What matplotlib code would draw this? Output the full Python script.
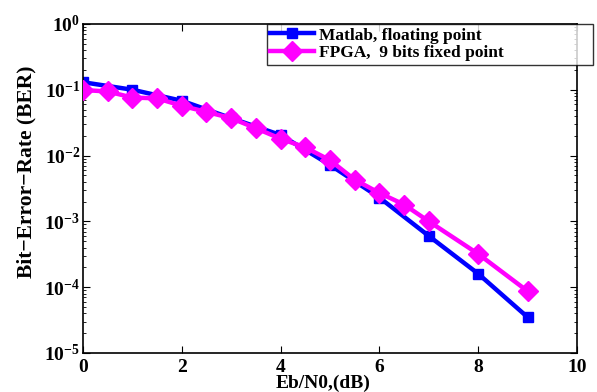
import matplotlib
matplotlib.use("Agg")
import matplotlib.pyplot as plt
from matplotlib.ticker import FixedLocator, LogLocator, NullFormatter

plt.rcParams["font.family"] = "Liberation Serif"
plt.rcParams["font.weight"] = "bold"
plt.rcParams["mathtext.fontset"] = "custom"
plt.rcParams["mathtext.rm"] = "Liberation Serif:bold"
plt.rcParams["mathtext.bf"] = "Liberation Serif:bold"

# Matlab, floating point
matlab_x = [0, 1, 2, 3, 4, 5, 6, 7, 8, 9]
matlab_ber = [0.13, 0.10, 0.068, 0.037, 0.0205, 0.0072, 0.0023, 0.0006, 0.00016, 3.5e-5]

# FPGA, 9 bits fixed point
fpga_x = [0, 0.5, 1, 1.5, 2, 2.5, 3, 3.5, 4, 4.5, 5, 5.5, 6, 6.5, 7, 8, 9]
fpga_ber = [0.099, 0.094, 0.076, 0.074, 0.057, 0.046, 0.037, 0.026, 0.018,
            0.0133, 0.0085, 0.0043, 0.0027, 0.0018, 0.001, 0.00032, 8.7e-5]

x_ticks = [0, 2, 4, 6, 8, 10]
y_exps = [0, -1, -2, -3, -4, -5]

fig = plt.figure(figsize=(5.97, 3.92), dpi=100)
ax = fig.add_axes([0.139, 0.0995, 0.8275, 0.8395])

ax.semilogy(matlab_x, matlab_ber, color="#0000ff", linewidth=3.2, marker="s",
            markersize=7.5, label="Matlab, floating point", zorder=2)
ax.semilogy(fpga_x, fpga_ber, color="#ff00ff", linewidth=3.2, marker="D",
            markersize=10, label="FPGA,  9 bits fixed point", zorder=3)

ax.set_xlim(0, 10)
ax.set_ylim(1e-5, 1)
ax.set_xticks(x_ticks)
ax.set_xticklabels([str(v) for v in x_ticks])
ax.yaxis.set_major_locator(FixedLocator([10.0 ** e for e in y_exps]))
ax.set_yticklabels([r"$\mathbf{10^{%d}}$" % e for e in y_exps])
ax.yaxis.set_minor_locator(LogLocator(base=10, subs=range(2, 10), numticks=20))
ax.yaxis.set_minor_formatter(NullFormatter())

ax.tick_params(which="both", direction="in", top=True, right=True)
ax.tick_params(which="major", length=5, width=0.8, labelsize=14)
ax.tick_params(which="minor", length=2.5, width=0.6)
ax.tick_params(axis="x", pad=4)
ax.tick_params(axis="y", pad=2)
for lab in ax.get_xticklabels() + ax.get_yticklabels():
    lab.set_fontweight("bold")
for spine in ax.spines.values():
    spine.set_linewidth(1.2)

ax.set_xlabel("Eb/N0,(dB)", fontsize=14, fontweight="bold")
ax.xaxis.set_label_coords(0.486, -0.066)
ax.set_ylabel("Bit\u2212Error\u2212Rate (BER)", fontsize=15.5, fontweight="bold")
ax.yaxis.set_label_coords(-0.094, 0.55)

# Matlab-style legend box: wide, hugging the top edge, sticking out past the right spine
leg = ax.legend(loc="upper left", bbox_to_anchor=(0.3725, 0.869, 0.66, 0.131),
                mode="expand", fontsize=12.5, frameon=True, fancybox=False,
                borderpad=0.2, handlelength=2.5, handletextpad=0.3,
                labelspacing=0.1, borderaxespad=0.0)
leg.get_frame().set_edgecolor("black")
leg.get_frame().set_linewidth(1.0)
for t in leg.get_texts():
    t.set_fontweight("bold")

fig.savefig("out.png", dpi=100)
